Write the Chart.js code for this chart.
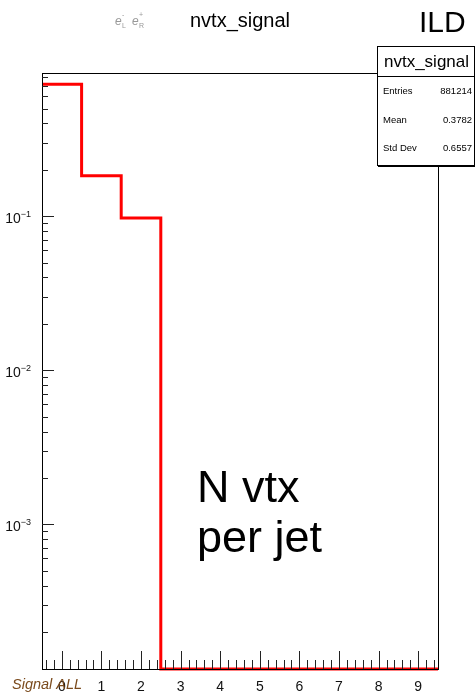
<html lang="en">
<head>
<meta charset="UTF-8">
<title>nvtx_signal</title>
<script src="https://cdn.jsdelivr.net/npm/chart.js"></script>
<style>
  body, html {
    margin: 0;
    background: #fff;
  }
  #plot {
    display: block;
  }
</style>
</head>
<body>
<canvas id="plot" width="475" height="696"></canvas>
<script>
  // histogram data (normalised), one bin per integer
  const binCenters = [0, 1, 2, 3, 4, 5, 6, 7, 8, 9];
  const binContent = [0.719, 0.183, 0.0975, 0, 0, 0, 0, 0, 0, 0];
  const xTickLabels = ['0', '1', '2', '3', '4', '5', '6', '7', '8', '9'];
  const yDecades = [1e-1, 1e-2, 1e-3];
  const yDecadeLabels = ['-1', '-2', '-3'];
  const statsNames = ['Entries', 'Mean', 'Std Dev'];
  const statsValues = ['881214', '0.3782', '0.6557'];

  const X_MIN = -0.5, X_MAX = 9.5;
  const Y_MIN = 1.15e-4, Y_MAX = 0.85;
  const FONT = '"Liberation Sans", Arial, sans-serif';

  // step points at the left edge of each bin, empty bins sit on the axis
  var stepPoints = binCenters.map(function(c, i) {
    return { x: c - 0.5, y: binContent[i] > 0 ? binContent[i] : Y_MIN };
  });
  stepPoints.push({ x: binCenters[binCenters.length - 1] + 0.5, y: stepPoints[stepPoints.length - 1].y });

  // ROOT style frame, inner ticks and decorations
  const rootStyle = {
    id: 'rootStyle',
    afterDraw: function(chart) {
      var ctx = chart.ctx;
      var a = chart.chartArea;
      var xs = chart.scales.x, ys = chart.scales.y;
      ctx.save();

      // frame
      ctx.strokeStyle = '#000';
      ctx.lineWidth = 1;
      ctx.strokeRect(Math.round(a.left) + 0.5, Math.round(a.top) + 0.5,
                     Math.round(a.right - a.left), Math.round(a.bottom - a.top));

      // x ticks (major every 1, minor every 0.2)
      ctx.strokeStyle = '#222';
      ctx.beginPath();
      for (var k = -2; k <= 47; k++) {
        var v = k * 0.2;
        if (v <= X_MIN || v >= X_MAX) continue;
        var px = Math.round(xs.getPixelForValue(v)) + 0.5;
        var len = (k % 5 === 0) ? 18 : 9;
        ctx.moveTo(px, a.bottom);
        ctx.lineTo(px, a.bottom - len);
      }
      // y ticks (log, major per decade)
      for (var e = -5; e <= 0; e++) {
        for (var m = 1; m <= 9; m++) {
          var yv = m * Math.pow(10, e);
          if (yv < Y_MIN || yv > Y_MAX) continue;
          var py = Math.round(ys.getPixelForValue(yv)) + 0.5;
          var l = (m === 1) ? 12 : 6;
          ctx.moveTo(a.left, py);
          ctx.lineTo(a.left + l, py);
        }
      }
      ctx.stroke();

      // y labels 10^n
      ctx.fillStyle = '#111';
      ctx.textBaseline = 'alphabetic';
      yDecades.forEach(function(d, i) {
        var py = ys.getPixelForValue(d);
        ctx.font = '9px ' + FONT;
        ctx.textAlign = 'right';
        ctx.fillText(yDecadeLabels[i].replace('-', '\u2212'), 31, py + 1);
        var ew = ctx.measureText(yDecadeLabels[i].replace('-', '\u2212')).width;
        ctx.font = '14px ' + FONT;
        ctx.fillText('10', 31 - ew, py + 7);
      });

      // beam polarisation label
      ctx.fillStyle = '#999';
      ctx.textAlign = 'left';
      ctx.font = 'italic 12px ' + FONT;
      ctx.fillText('e', 115, 25);
      ctx.fillText('e', 132, 25);
      ctx.font = '7px ' + FONT;
      ctx.fillText('-', 122, 17);
      ctx.fillText('L', 122, 28);
      ctx.fillText('+', 139, 17);
      ctx.fillText('R', 139, 28);

      // title and ILD
      ctx.fillStyle = '#000';
      ctx.textAlign = 'center';
      ctx.font = '20px ' + FONT;
      ctx.fillText('nvtx_signal', 240, 27);
      ctx.textAlign = 'left';
      ctx.font = '30px ' + FONT;
      ctx.fillText('ILD', 419, 32);

      // stats box
      var bx = 377, by = 46, bw = 97, bh = 119;
      ctx.fillStyle = '#fff';
      ctx.fillRect(bx, by, bw, bh);
      ctx.strokeStyle = '#000';
      ctx.lineWidth = 1;
      ctx.strokeRect(bx + 0.5, by + 0.5, bw, bh);
      ctx.fillStyle = '#000';
      ctx.fillRect(bx + 1, by + bh, bw, 2);
      ctx.beginPath();
      ctx.moveTo(bx, 76.5);
      ctx.lineTo(bx + bw, 76.5);
      ctx.stroke();
      ctx.textAlign = 'center';
      ctx.font = '17px ' + FONT;
      ctx.fillText('nvtx_signal', bx + bw / 2 + 1, 67);
      ctx.font = '9.5px ' + FONT;
      statsNames.forEach(function(n, i) {
        var yy = 94 + i * 28.5;
        ctx.textAlign = 'left';
        ctx.fillText(n, bx + 6, yy);
        ctx.textAlign = 'right';
        ctx.fillText(statsValues[i], bx + bw - 2, yy);
      });

      // annotation
      ctx.textAlign = 'left';
      ctx.font = '45px ' + FONT;
      ctx.fillText('N vtx', 197, 502);
      ctx.fillText('per jet', 197, 552);

      // sample label
      ctx.fillStyle = '#7a4a1c';
      ctx.font = 'italic 14.5px ' + FONT;
      ctx.fillText('Signal ALL', 12, 689);

      ctx.restore();
    }
  };

  var chart = new Chart(document.getElementById('plot').getContext('2d'), {
    type: 'line',
    data: {
      datasets: [{
        label: 'nvtx_signal',
        data: stepPoints,
        stepped: 'before',
        borderColor: '#ff0000',
        borderWidth: 3,
        pointRadius: 0,
        fill: false,
        clip: 4
      }]
    },
    options: {
      responsive: false,
      animation: false,
      layout: { padding: { top: 73, right: 37, left: 0, bottom: 0 } },
      plugins: {
        legend: { display: false },
        tooltip: { enabled: false }
      },
      scales: {
        x: {
          type: 'linear',
          min: X_MIN,
          max: X_MAX,
          grid: { display: false, drawTicks: false },
          border: { display: false },
          afterBuildTicks: function(scale) {
            scale.ticks = binCenters.map(function(v) { return { value: v }; });
          },
          afterFit: function(scale) { scale.height = 27; },
          ticks: {
            padding: 10,
            color: '#111',
            font: { family: FONT, size: 14 },
            maxRotation: 0,
            autoSkip: false,
            callback: function(value) {
              var i = binCenters.indexOf(value);
              return i >= 0 ? xTickLabels[i] : '';
            }
          }
        },
        y: {
          type: 'logarithmic',
          min: Y_MIN,
          max: Y_MAX,
          grid: { display: false, drawTicks: false },
          border: { display: false },
          afterFit: function(scale) { scale.width = 42; },
          ticks: { callback: function() { return ''; } }
        }
      }
    },
    plugins: [rootStyle]
  });
</script>
</body>
</html>
